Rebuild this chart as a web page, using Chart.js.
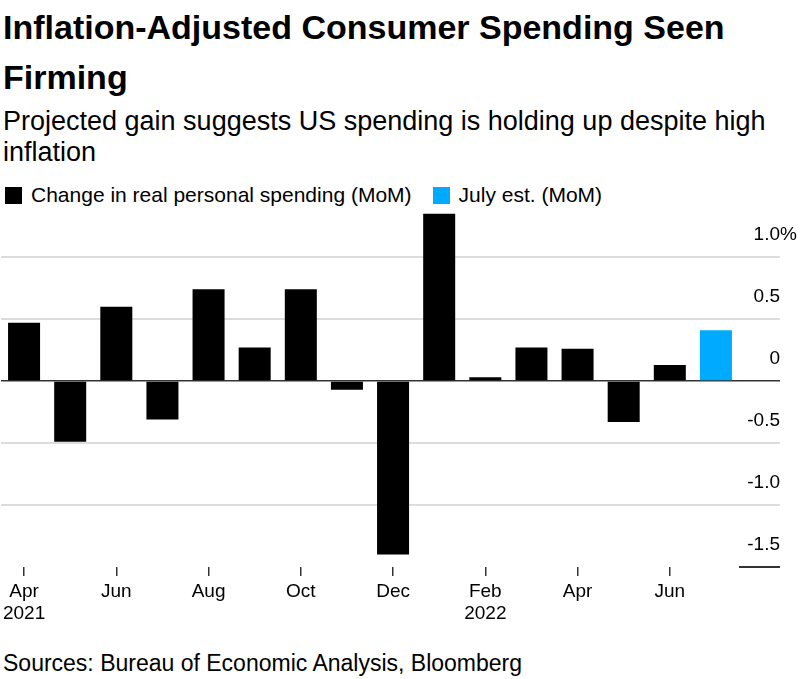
<!DOCTYPE html>
<html>
<head>
<meta charset="utf-8">
<script src="https://cdn.jsdelivr.net/npm/chart.js@4"></script>
<style>
  body { margin: 0; background: #fff; font-family: "Liberation Sans", Arial, sans-serif; color: #000; }
  #wrap { position: relative; width: 805px; height: 679px; overflow: hidden; }
  .title { position: absolute; left: 3px; top: 2px; width: 800px; font-size: 34px; font-weight: bold; line-height: 50px; }
  .subtitle { position: absolute; left: 3px; top: 106px; width: 800px; font-size: 27px; line-height: 31px; }
  .legend { position: absolute; left: 5px; top: 183px; font-size: 21px; display: flex; align-items: center; }
  .legend .box { width: 17px; height: 17px; display: inline-block; margin-right: 9px; }
  .legend .item { display: flex; align-items: center; margin-right: 21px; }
  .source { position: absolute; left: 3px; top: 650px; font-size: 23px; }
  #chartBox { position: absolute; left: 0; top: 200px; width: 805px; height: 440px; }
</style>
</head>
<body>
<div id="wrap">
  <div class="title">Inflation-Adjusted Consumer Spending Seen Firming</div>
  <div class="subtitle">Projected gain suggests US spending is holding up despite high inflation</div>
  <div class="legend">
    <span class="item"><span class="box" style="background:#000"></span>Change in real personal spending (MoM)</span>
    <span class="item"><span class="box" style="background:#00aaff"></span>July est. (MoM)</span>
  </div>
  <div id="chartBox"><canvas id="spendingChart"></canvas></div>
  <div class="source">Sources: Bureau of Economic Analysis, Bloomberg</div>
</div>
<script>
const months = ["Apr", "May", "Jun", "Jul", "Aug", "Sep", "Oct", "Nov", "Dec",
  "Jan", "Feb", "Mar", "Apr", "May", "Jun", "Jul"];
const yearLabels = { 0: "2021", 10: "2022" };

// monthly change in real personal spending, %
const actualSpending = [0.47, -0.49, 0.60, -0.31, 0.74, 0.27, 0.74, -0.07, -1.40,
  1.35, 0.03, 0.27, 0.26, -0.33, 0.13, null];
const julyEstimate = [null, null, null, null, null, null, null, null, null,
  null, null, null, null, null, null, 0.41];

const yTicks = [-1.5, -1.0, -0.5, 0, 0.5, 1.0];

const percentSign = {
  id: "percentSign",
  afterDraw(chart) {
    const y = chart.scales.y;
    const ctx = chart.ctx;
    ctx.save();
    ctx.font = "19px 'Liberation Sans', Arial, sans-serif";
    ctx.fillStyle = "#000";
    ctx.textAlign = "left";
    ctx.textBaseline = "middle";
    ctx.fillText("%", y.right, y.getPixelForValue(1.0) - 22);
    ctx.restore();
  },
};

Chart.defaults.font.family = "'Liberation Sans', Arial, sans-serif";
Chart.defaults.font.size = 19;
Chart.defaults.color = "#000";

new Chart(document.getElementById("spendingChart"), {
  type: "bar",
  data: {
    labels: months,
    datasets: [
      {
        label: "Change in real personal spending (MoM)",
        data: actualSpending,
        backgroundColor: "#000",
        grouped: false,
        categoryPercentage: 1,
        barPercentage: 0.694,
      },
      {
        label: "July est. (MoM)",
        data: julyEstimate,
        backgroundColor: "#00aaff",
        grouped: false,
        categoryPercentage: 1,
        barPercentage: 0.694,
      },
    ],
  },
  options: {
    responsive: true,
    maintainAspectRatio: false,
    animation: false,
    layout: { padding: { left: 1, right: 25, top: 5, bottom: 13 } },
    plugins: {
      legend: { display: false },
      tooltip: { enabled: false },
    },
    scales: {
      x: {
        afterFit: (scale) => {
          scale.height = 60;
          scale.paddingLeft = 0;
          scale.paddingRight = 0;
        },
        border: { display: false },
        grid: {
          offset: false,
          drawOnChartArea: false,
          drawTicks: true,
          tickLength: 9,
          lineWidth: 1.5,
          tickColor: (ctx) => (ctx.index % 2 === 0 ? "#333" : "rgba(0,0,0,0)"),
        },
        ticks: {
          autoSkip: false,
          maxRotation: 0,
          padding: 4,
          font: { size: 19, lineHeight: 1.2 },
          callback: function (value, index) {
            if (index % 2 !== 0) return "";
            const m = months[index];
            return yearLabels[index] ? [m, yearLabels[index]] : m;
          },
        },
      },
      y: {
        position: "right",
        min: -1.5,
        max: 1.42,
        afterFit: (scale) => {
          scale.width = 41;
          scale.paddingTop = 0;
          scale.paddingBottom = 0;
        },
        afterBuildTicks: (scale) => {
          scale.ticks = yTicks.map((v) => ({ value: v }));
        },
        border: { display: false },
        grid: {
          drawTicks: true,
          tickLength: 41,
          lineWidth: (ctx) => (ctx.tick && ctx.tick.value === 0 ? 1.5 : 2),
          color: (ctx) => {
            if (!ctx.tick) return "#dcdcdc";
            if (ctx.tick.value === 0) return "#333";
            if (ctx.tick.value === -1.5) return "rgba(0,0,0,0)";
            return "#dcdcdc";
          },
          tickColor: (ctx) => {
            if (!ctx.tick) return "#dcdcdc";
            if (ctx.tick.value === 0 || ctx.tick.value === -1.5) return "#333";
            return "#dcdcdc";
          },
        },
        ticks: {
          crossAlign: "far",
          labelOffset: -22,
          font: { size: 19 },
          callback: (v) => (v === 0 ? "0" : v.toFixed(1)),
        },
      },
    },
  },
  plugins: [percentSign],
});
</script>
</body>
</html>
